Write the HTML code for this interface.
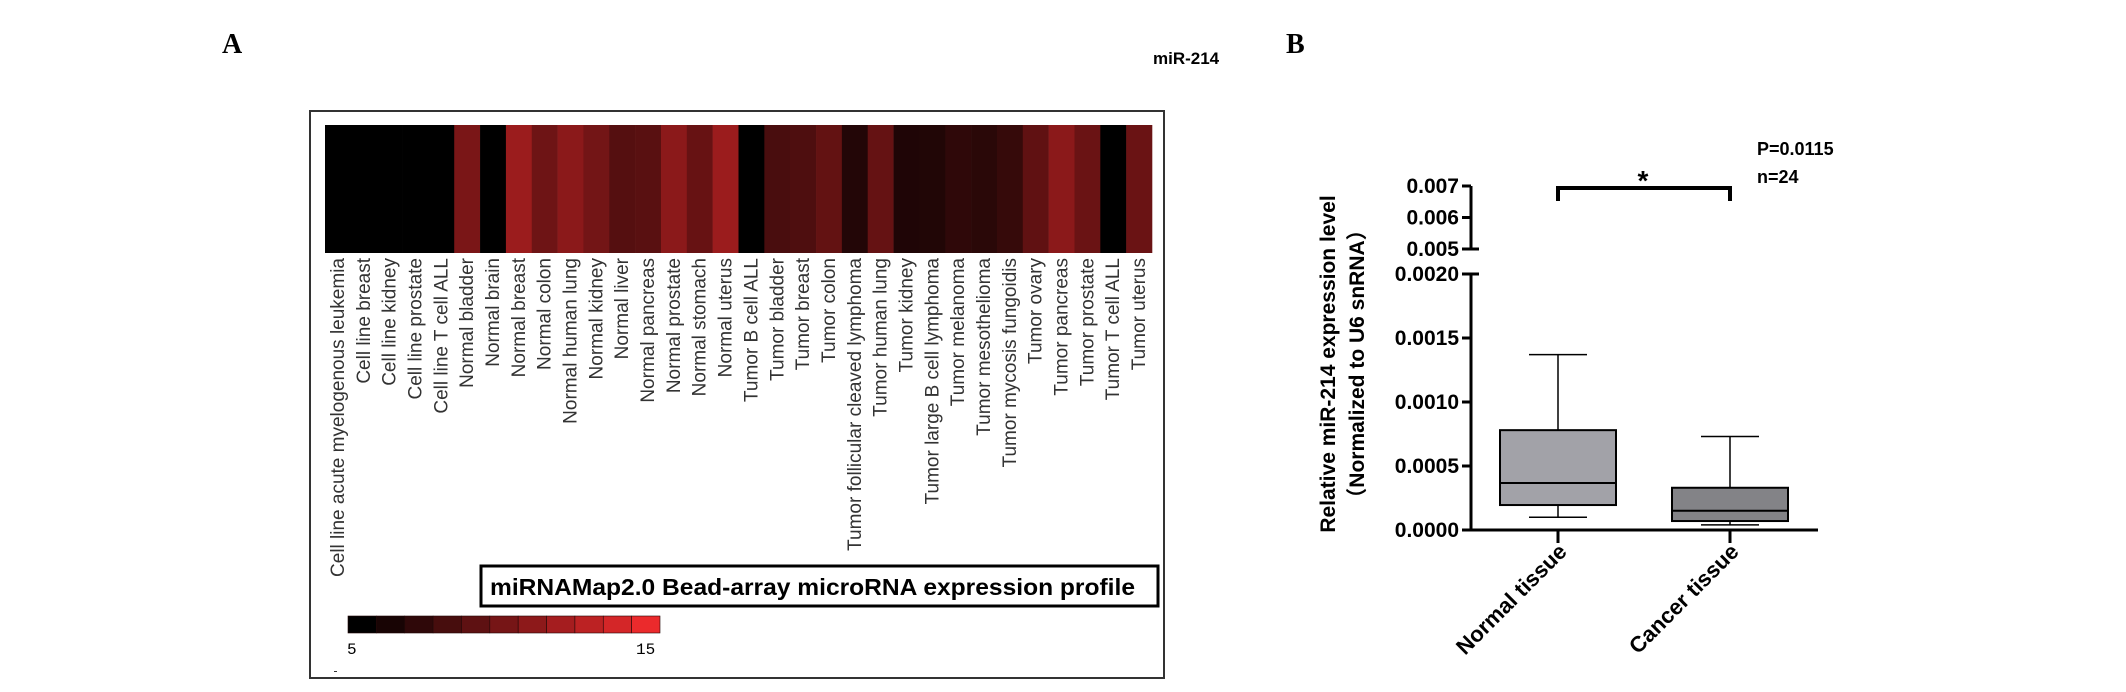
<!DOCTYPE html>
<html><head><meta charset="utf-8"><style>
html,body{margin:0;padding:0;background:#fff;}
svg{display:block;}
</style></head><body>
<svg id="fig" width="2126" height="692" viewBox="0 0 2126 692" xmlns="http://www.w3.org/2000/svg">
<text x="222" y="53" font-family="Liberation Serif, serif" font-weight="bold" font-size="28">A</text>
<text x="1286" y="53" font-family="Liberation Serif, serif" font-weight="bold" font-size="28">B</text>
<text x="1153" y="64" font-family="Liberation Sans, sans-serif" font-weight="bold" font-size="17">miR-214</text>
<rect x="310" y="111" width="854" height="567" fill="none" stroke="#333" stroke-width="2"/>
<g id="heat"></g>
<g id="heatlabels"></g>
<rect x="481" y="566" width="677" height="40" fill="#fff" stroke="#000" stroke-width="3"/>
<text x="490" y="595" font-family="Liberation Sans, sans-serif" font-weight="bold" font-size="23" textLength="645" lengthAdjust="spacingAndGlyphs">miRNAMap2.0  Bead-array microRNA expression profile</text>
<g id="cbar"></g>
<text x="347" y="654" font-family="Liberation Mono, monospace" font-size="16">5</text>
<text x="636" y="654" font-family="Liberation Mono, monospace" font-size="16">15</text>
<rect x="334" y="671" width="3" height="1" fill="#333"/>
<g id="box"></g>
</svg>
<script>
const tissues = ["Cell line acute myelogenous leukemia","Cell line breast","Cell line kidney","Cell line prostate","Cell line T cell ALL","Normal bladder","Normal brain","Normal breast","Normal colon","Normal human lung","Normal kidney","Normal liver","Normal pancreas","Normal prostate","Normal stomach","Normal uterus","Tumor B cell ALL","Tumor bladder","Tumor breast","Tumor colon","Tumor follicular cleaved lymphoma","Tumor human lung","Tumor kidney","Tumor large B cell lymphoma","Tumor melanoma","Tumor mesothelioma","Tumor mycosis fungoidis","Tumor ovary","Tumor pancreas","Tumor prostate","Tumor T cell ALL","Tumor uterus"];
const expression = [5,5,5,5,5,10.2,5,11.6,9.7,10.9,9.9,8.6,8.8,10.9,9.4,11.6,5,8.1,8.3,9.2,6.5,9.3,6.3,6.4,7.0,6.8,7.3,9.1,10.9,9.5,5,9.5];
const colorbarSteps = [5,6,7,8,9,10,11,12,13,14,15];
const groups = ["Normal tissue","Cancer tissue"];
const whiskerLow = [0.0001,0.00004];
const q1 = [0.000195,0.00007];
const median = [0.000367,0.00015];
const q3 = [0.00078,0.00033];
const whiskerHigh = [0.00137,0.00073];
const lowerTicks = ["0.0000","0.0005","0.0010","0.0015","0.0020"];
const upperTicks = ["0.005","0.006","0.007"];

const NS="http://www.w3.org/2000/svg";
function mk(tag,attrs,parent){const e=document.createElementNS(NS,tag);for(const k in attrs)e.setAttribute(k,attrs[k]);parent.appendChild(e);return e;}
function heatColor(v){const t=Math.max(0,Math.min(1,(v-5)/10));return `rgb(${Math.round(235*t)},${Math.round(42*t)},${Math.round(44*t)})`;}

const heat=document.getElementById('heat'), hl=document.getElementById('heatlabels');
const hx0=325,hx1=1152,hy0=125,hy1=253;
const cw=(hx1-hx0)/tissues.length;
function xCol(i){return hx0+i*cw;}
tissues.forEach((t,i)=>{
  const r=mk('rect',{x:xCol(i),y:hy0,width:cw+0.3,height:hy1-hy0,fill:heatColor(expression[i])},heat);
  
  
  const cx=xCol(i)+cw/2+6;
  const tx=mk('text',{x:0,y:0,transform:`translate(${cx},258) rotate(-90)`,'text-anchor':'end','font-family':'Liberation Sans, sans-serif','font-size':'19',fill:'#333'},hl);
  tx.textContent=t;
  
  
});
mk('rect',{x:320,y:579,width:40,height:20,fill:'#fff'},hl);

const cb=document.getElementById('cbar');
const cbx0=348,cbx1=660,cbw=(cbx1-cbx0)/colorbarSteps.length;
colorbarSteps.forEach((v,i)=>{
  const r=mk('rect',{x:cbx0+i*cbw,y:616,width:cbw,height:17,fill:heatColor(v),stroke:'#220808','stroke-width':'0.6'},cb);
  
  
});

const box=document.getElementById('box');
const ax=1471;
function yLow(v){return 530-v/0.0005*64;}
function yUp(v){return 249-(v-0.005)/0.001*31.5;}
const cxs=[1558,1730];
const fills=['#a2a2a8','#838387'];
const F='Liberation Sans, sans-serif';
let e=mk('line',{x1:ax,y1:yLow(0.002),x2:ax,y2:531,stroke:'#000','stroke-width':3},box);

e=mk('line',{x1:ax,y1:yUp(0.007),x2:ax,y2:yUp(0.005),stroke:'#000','stroke-width':3},box);

e=mk('line',{x1:1462,y1:530,x2:1818,y2:530,stroke:'#000','stroke-width':3},box);

lowerTicks.forEach(t=>{
  const y=yLow(parseFloat(t));
  mk('line',{x1:1462,y1:y,x2:ax+ (parseFloat(t)===0.002?8:0),y2:y,stroke:'#000','stroke-width':3},box);
  const tx=mk('text',{x:1459,y:y+7,'text-anchor':'end','font-family':F,'font-weight':'bold','font-size':'21'},box);
  tx.textContent=t;
  
  
});
upperTicks.forEach(t=>{
  const y=yUp(parseFloat(t));
  mk('line',{x1:1462,y1:y,x2:ax+(parseFloat(t)===0.005?8:0),y2:y,stroke:'#000','stroke-width':3},box);
  const tx=mk('text',{x:1459,y:y+7,'text-anchor':'end','font-family':F,'font-weight':'bold','font-size':'21'},box);
  tx.textContent=t;
  
  
});
groups.forEach((g,i)=>{
  const cx=cxs[i];
  mk('line',{x1:cx,y1:530,x2:cx,y2:543,stroke:'#000','stroke-width':3},box);
  const w=mk('line',{x1:cx,y1:yLow(whiskerHigh[i]),x2:cx,y2:yLow(whiskerLow[i]),stroke:'#000','stroke-width':1.5},box);
  
  mk('line',{x1:cx-29,y1:yLow(whiskerHigh[i]),x2:cx+29,y2:yLow(whiskerHigh[i]),stroke:'#000','stroke-width':1.5},box);
  mk('line',{x1:cx-29,y1:yLow(whiskerLow[i]),x2:cx+29,y2:yLow(whiskerLow[i]),stroke:'#000','stroke-width':1.5},box);
  const r=mk('rect',{x:cx-58,y:yLow(q3[i]),width:116,height:yLow(q1[i])-yLow(q3[i]),fill:fills[i],stroke:'#000','stroke-width':2},box);
  
  
  const m=mk('line',{x1:cx-58,y1:yLow(median[i]),x2:cx+58,y2:yLow(median[i]),stroke:'#000','stroke-width':2},box);
  
  const tx=mk('text',{x:0,y:0,transform:`translate(${cx+10},${553}) rotate(-45)`,'text-anchor':'end','font-family':F,'font-weight':'bold','font-size':'22'},box);
  tx.textContent=g;
  
  
});
let t1=mk('text',{x:0,y:0,transform:'translate(1335,364) rotate(-90)','text-anchor':'middle','font-family':F,'font-weight':'bold','font-size':'21'},box);
t1.textContent='Relative miR-214 expression level';

let t2=mk('text',{x:0,y:0,transform:'translate(1364,364) rotate(-90)','text-anchor':'middle','font-family':'Liberation Sans, "Noto Sans CJK SC", sans-serif','font-weight':'bold','font-size':'21'},box);
t2.textContent='（Normalized to U6 snRNA）';

const br=mk('path',{d:`M${cxs[0]},201 V188 H${cxs[1]} V201`,fill:'none',stroke:'#000','stroke-width':4},box);

let st=mk('text',{x:1643,y:190,'text-anchor':'middle','font-family':F,'font-weight':'bold','font-size':'28'},box);
st.textContent='*';

let p=mk('text',{x:1757,y:155,'font-family':F,'font-weight':'bold','font-size':'18'},box);
p.textContent='P=0.0115';

let n=mk('text',{x:1757,y:183,'font-family':F,'font-weight':'bold','font-size':'18'},box);
n.textContent='n=24';

</script>
</body></html>
